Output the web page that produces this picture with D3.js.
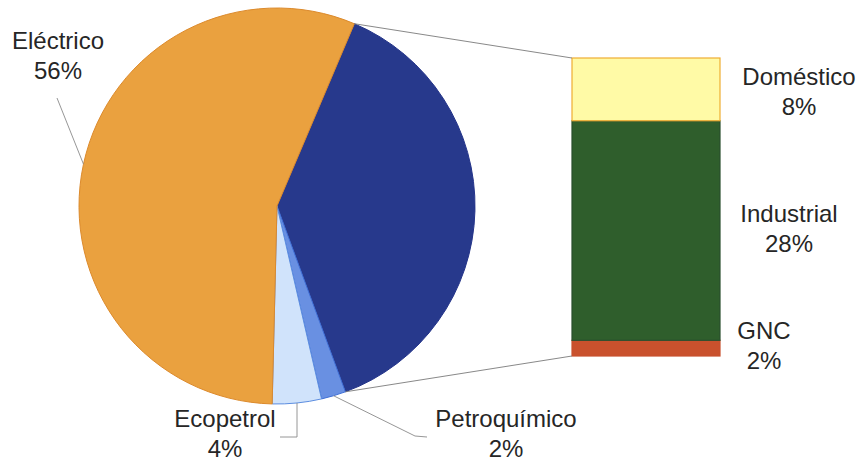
<!DOCTYPE html>
<html>
<head>
<meta charset="utf-8">
<script src="https://cdn.jsdelivr.net/npm/d3@7"></script>
<style>
  html, body { margin: 0; padding: 0; background: #ffffff; }
  svg { display: block; }
  text { font-family: Arial, "Liberation Sans", sans-serif; fill: #262626; }
</style>
</head>
<body>
<svg id="chart" width="862" height="465"></svg>
<script>
// Consumo de gas natural por sector (%)
const pieCategories = ["Petroquímico", "Ecopetrol", "Eléctrico"];
const pieValues = [2, 4, 56];
const barCategories = ["Doméstico", "Industrial", "GNC"];
const barValues = [8, 28, 2];

const svg = d3.select("#chart");

// ---- pie ----
const cx = 277, cy = 206, R = 198;
const startDeg = 23;
const toRad = d => d * Math.PI / 180;

// the bar sectors are grouped into one slice of the pie
const restTotal = d3.sum(barValues);
const pieData = [{ name: "resto", value: restTotal }]
  .concat(pieCategories.map((c, i) => ({ name: c, value: pieValues[i] })));

const pieColors = {
  "resto": ["#27398c", "#24348a"],
  "Petroquímico": ["#6990e2", "#3f6fd6"],
  "Ecopetrol": ["#d0e3fb", "#5d8ee0"],
  "Eléctrico": ["#eaa13f", "#dc8a2c"]
};

const pie = d3.pie().sort(null).value(d => d.value)
  .startAngle(toRad(startDeg)).endAngle(toRad(startDeg) + 2 * Math.PI);
const arcs = pie(pieData);
const arc = d3.arc().innerRadius(0).outerRadius(R);

const gPie = svg.append("g").attr("transform", `translate(${cx},${cy})`);
gPie.selectAll("path").data(arcs).join("path")
  .attr("d", arc)
  .attr("fill", d => pieColors[d.data.name][0])
  .attr("stroke", d => pieColors[d.data.name][1])
  .attr("stroke-width", 1);

// point on the pie rim at a given angle (radians, clockwise from 12 o'clock)
const rim = (a, r = R) => [cx + r * Math.sin(a), cy - r * Math.cos(a)];

// ---- stacked bar ----
const barX0 = 572, barX1 = 720;
const y = d3.scaleLinear().domain([0, restTotal]).range([356, 58]);
const barColors = {
  "Doméstico": ["#fffaa6", "#efad33"],
  "Industrial": ["#2f5e2c", "#2a4f2e"],
  "GNC": ["#c9512d", "#c9512d"]
};

// stack from the bottom: GNC, Industrial, Doméstico
let acc = 0;
const segs = barCategories.slice().reverse().map(c => {
  const v = barValues[barCategories.indexOf(c)];
  const s = { name: c, y0: acc, y1: acc + v };
  acc += v;
  return s;
});

svg.append("g").selectAll("rect").data(segs).join("rect")
  .attr("x", barX0)
  .attr("width", barX1 - barX0)
  .attr("y", d => y(d.y1))
  .attr("height", d => y(d.y0) - y(d.y1))
  .attr("fill", d => barColors[d.name][0])
  .attr("stroke", d => barColors[d.name][1])
  .attr("stroke-width", 1.2);

// ---- connector lines between pie and bar ----
const restArc = arcs[0];
const pTop = rim(restArc.startAngle);
const pBot = rim(restArc.endAngle);
svg.append("line")
  .attr("x1", pTop[0]).attr("y1", pTop[1])
  .attr("x2", barX0).attr("y2", y(restTotal))
  .attr("stroke", "#7a7a7a").attr("stroke-width", 0.9);
svg.append("line")
  .attr("x1", pBot[0]).attr("y1", pBot[1])
  .attr("x2", barX0).attr("y2", y(0))
  .attr("stroke", "#7a7a7a").attr("stroke-width", 0.9);

// ---- labels ----
const fontSize = 24;
function label(x, yBase, lines) {
  const t = svg.append("text")
    .attr("text-anchor", "middle")
    .attr("font-size", fontSize);
  lines.forEach((s, i) => {
    t.append("tspan").attr("x", x).attr("y", yBase + i * 30).text(s);
  });
}
const pct = v => v + "%";

const arcByName = {};
arcs.forEach(a => arcByName[a.data.name] = a);
const mid = a => (a.startAngle + a.endAngle) / 2;

// leader lines from slice rims to their labels
const leader = pts => svg.append("path")
  .attr("d", d3.line()(pts))
  .attr("fill", "none").attr("stroke", "#8a8a8a").attr("stroke-width", 0.9);

const pEl = rim(mid(arcByName["Eléctrico"]));
leader([pEl, [57, 98]]);
const pEc = rim(mid(arcByName["Ecopetrol"]));
leader([pEc, [pEc[0], 437], [280, 437]]);
const pPe = rim(mid(arcByName["Petroquímico"]));
leader([pPe, [415, 436], [427, 437]]);

label(58, 49, [pieCategories[2], pct(pieValues[2])]);
label(225, 427, [pieCategories[1], pct(pieValues[1])]);
label(506, 427, [pieCategories[0], pct(pieValues[0])]);

label(799, 85, [barCategories[0], pct(barValues[0])]);
label(789, 222, [barCategories[1], pct(barValues[1])]);
label(764, 339, [barCategories[2], pct(barValues[2])]);
</script>
</body>
</html>
